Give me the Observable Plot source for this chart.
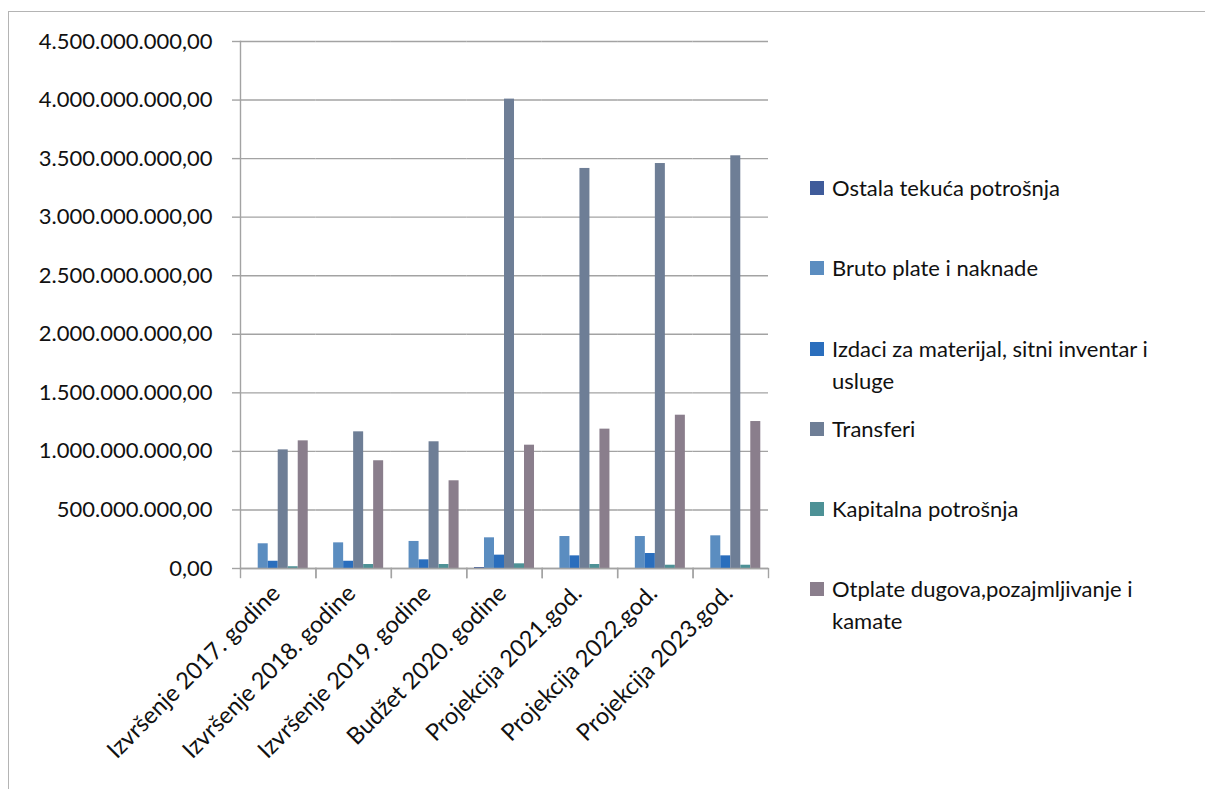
<!DOCTYPE html>
<html>
<head>
<meta charset="utf-8">
<script src="https://cdn.jsdelivr.net/npm/d3@7"></script>
<script src="https://cdn.jsdelivr.net/npm/@observablehq/plot@0.6"></script>
<style>
  html, body { margin: 0; padding: 0; background: #fff; overflow: hidden; width: 1205px; height: 789px; }
  #frame { position: absolute; left: 8px; top: 11px; width: 1400px; height: 1000px; border-top: 1.5px solid #b4b4b4; border-left: 1.5px solid #b4b4b4; }
  #chart { position: absolute; left: 0; top: 0; }
  #legend { position: absolute; left: 810px; top: 172px; font-family: "Lato", sans-serif; font-size: 22px; color: #111; }
  .item { height: 80.3px; display: flex; align-items: flex-start; }
  .sw { width: 14px; height: 14px; margin-top: 9px; margin-right: 8px; flex: none; }
  .lab { width: 360px; line-height: 32px; }
</style>
</head>
<body>
<div id="frame"></div>
<div id="chart"></div>
<div id="legend"></div>
<script>
const categories = ["Izvršenje 2017. godine", "Izvršenje 2018. godine", "Izvršenje 2019. godine", "Budžet 2020. godine", "Projekcija 2021.god.", "Projekcija 2022.god.", "Projekcija 2023.god."];
const series = ["Ostala tekuća potrošnja", "Bruto plate i naknade", "Izdaci za materijal, sitni inventar i usluge", "Transferi", "Kapitalna potrošnja", "Otplate dugova,pozajmljivanje i kamate"];
const ostala    = [0, 0, 0, 8e6, 0, 0, 0];
const bruto     = [211e6, 219e6, 231e6, 262e6, 273e6, 273e6, 279e6];
const izdaci    = [62e6, 62e6, 74e6, 114e6, 108e6, 128e6, 108e6];
const transferi = [1013e6, 1167e6, 1082e6, 4008e6, 3416e6, 3458e6, 3524e6];
const kapitalna = [15e6, 34e6, 34e6, 40e6, 34e6, 28e6, 28e6];
const otplate   = [1090e6, 920e6, 749e6, 1053e6, 1190e6, 1309e6, 1255e6];
const colors = ["#3f5b9a", "#5b8dc0", "#2a6ebd", "#6e7e96", "#4d9196", "#8a7e8c"];
const yTicks = [0, 5e8, 1e9, 1.5e9, 2e9, 2.5e9, 3e9, 3.5e9, 4e9, 4.5e9];

const seriesValues = [ostala, bruto, izdaci, transferi, kapitalna, otplate];
const rows = [];
categories.forEach((c, i) => series.forEach((s, j) => rows.push({cat: c, series: s, value: seriesValues[j][i]})));

const fmt = d3.formatLocale({decimal: ",", thousands: ".", grouping: [3], currency: ["", ""]}).format(",.2f");
const gridColor = "#a3a3a3";

const chart = Plot.plot({
  width: 780,
  height: 789,
  marginLeft: 240,
  marginRight: 12,
  marginTop: 41,
  marginBottom: 221,
  style: {fontFamily: "Lato, sans-serif", fontSize: "22px", color: "#111", background: "transparent"},
  fx: {domain: categories, padding: 0, round: false, label: null},
  x: {domain: series, paddingInner: 0, paddingOuter: 0.77, round: false, axis: null},
  y: {domain: [0, 4.5e9], label: null},
  color: {domain: series, range: colors},
  marks: [
    Plot.gridY(yTicks, {stroke: gridColor, strokeOpacity: 1, strokeWidth: 1.4}),
    Plot.axisY(yTicks, {tickSize: 8, tickPadding: 20, tickFormat: fmt, stroke: gridColor, strokeWidth: 1.4, fontSize: 22, label: null}),
    Plot.barY(rows, {fx: "cat", x: "series", y: "value", fill: "series"}),
    Plot.ruleY([0], {stroke: gridColor, strokeWidth: 1.4}),
    Plot.frame({anchor: "left", insetTop: 527, insetBottom: -9, stroke: gridColor, strokeWidth: 1.4}),
    Plot.frame({anchor: "right", insetTop: 527, insetBottom: -9, stroke: gridColor, strokeWidth: 1.4}),
    Plot.frame({anchor: "left", fx: [categories[0]], stroke: gridColor, strokeWidth: 1.4}),
    Plot.axisFx({anchor: "bottom", tickRotate: -45, tickSize: 0, tickPadding: 21, dx: -2, fontSize: 23.5, label: null})
  ]
});
document.getElementById("chart").appendChild(chart);

const legend = document.getElementById("legend");
series.forEach((s, i) => {
  const item = document.createElement("div");
  item.className = "item";
  const sw = document.createElement("div");
  sw.className = "sw";
  sw.style.background = colors[i];
  const lab = document.createElement("div");
  lab.className = "lab";
  lab.textContent = s;
  item.appendChild(sw);
  item.appendChild(lab);
  legend.appendChild(item);
});
</script>
</body>
</html>
